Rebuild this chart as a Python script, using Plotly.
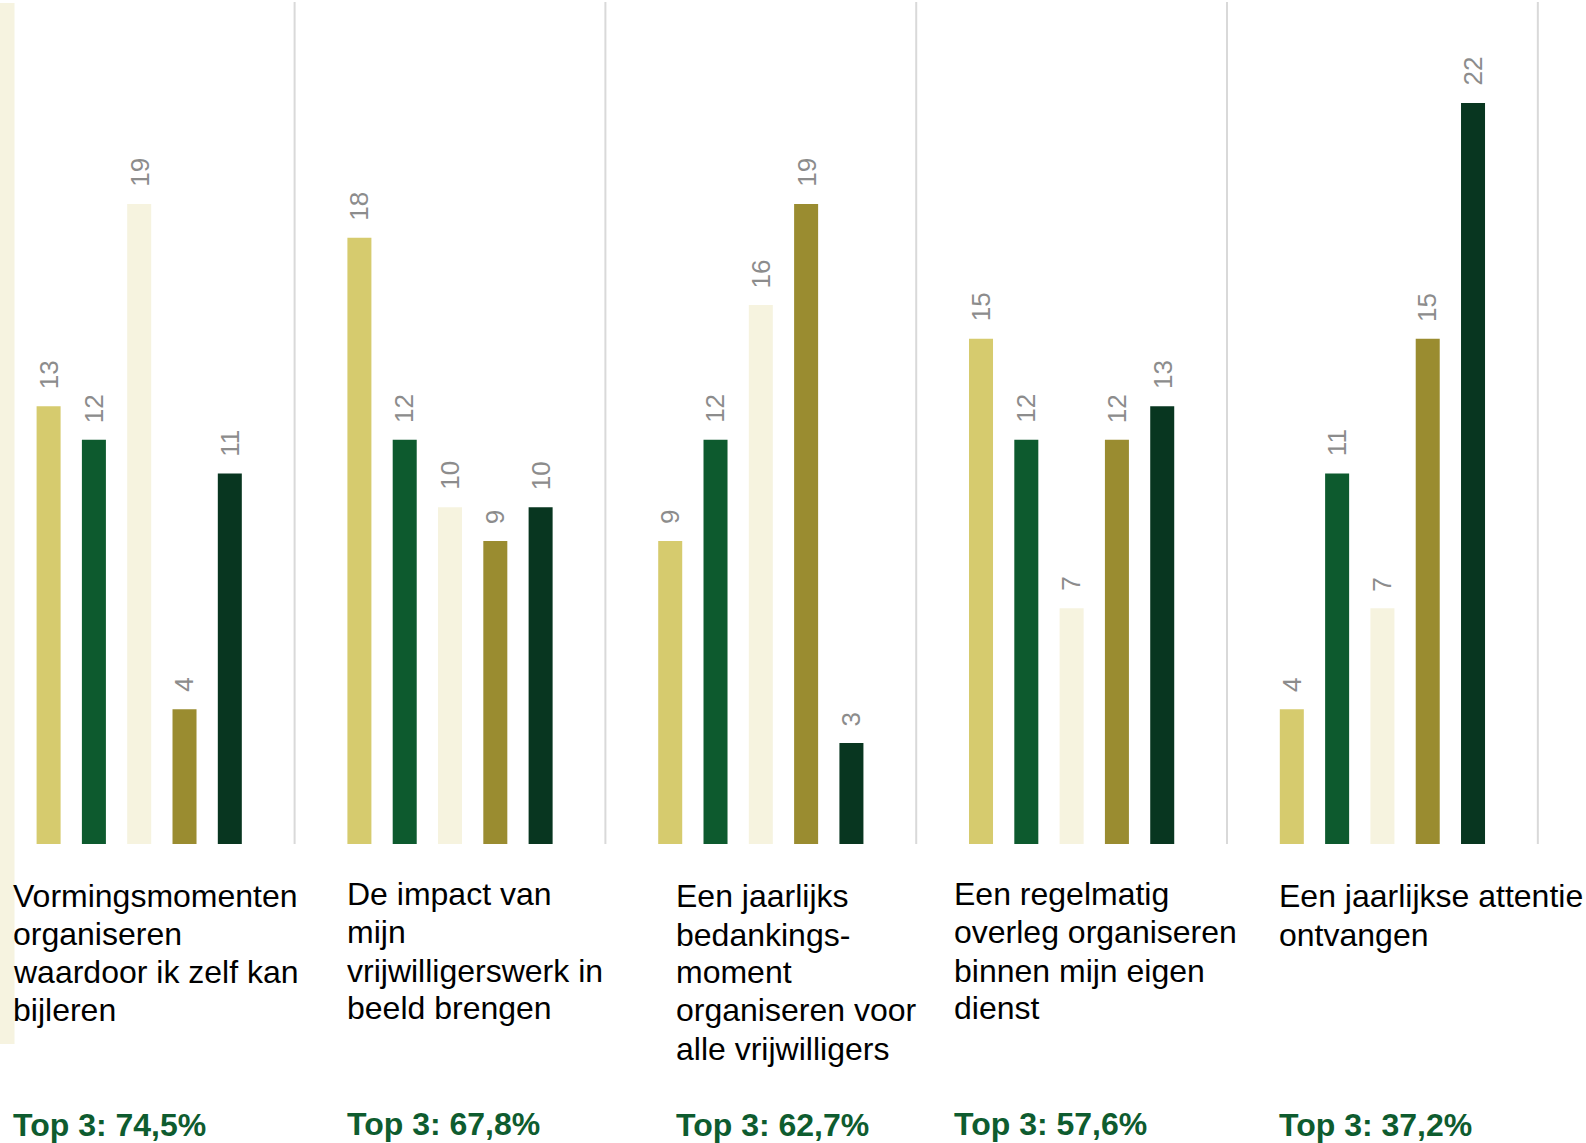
import plotly.graph_objects as go

# ---------------- data ----------------
categories = [
    "Vormingsmomenten organiseren waardoor ik zelf kan bijleren",
    "De impact van mijn vrijwilligerswerk in beeld brengen",
    "Een jaarlijks bedankings-moment organiseren voor alle vrijwilligers",
    "Een regelmatig overleg organiseren binnen mijn eigen dienst",
    "Een jaarlijkse attentie ontvangen",
]
category_lines = [
    ["Vormingsmomenten", "organiseren", "waardoor ik zelf kan", "bijleren"],
    ["De impact van", "mijn", "vrijwilligerswerk in", "beeld brengen"],
    ["Een jaarlijks", "bedankings-", "moment", "organiseren voor", "alle vrijwilligers"],
    ["Een regelmatig", "overleg organiseren", "binnen mijn eigen", "dienst"],
    ["Een jaarlijkse attentie", "ontvangen"],
]
series_names = ["1", "2", "3", "4", "5"]
values_1 = [13, 18, 9, 15, 4]
values_2 = [12, 12, 12, 12, 11]
values_3 = [19, 10, 16, 7, 7]
values_4 = [4, 9, 19, 12, 15]
values_5 = [11, 10, 3, 13, 22]
top3 = ["74,5%", "67,8%", "62,7%", "57,6%", "37,2%"]

series_values = [values_1, values_2, values_3, values_4, values_5]
colors = ["#D6CB6E", "#0D5A2E", "#F6F3DF", "#9A8C30", "#083620"]

W, H = 1586, 1143
BASE = 844  # pixel row of the bar baseline
FONT = "Liberation Sans, Arial, sans-serif"

fig = go.Figure()
for name, vals, col in zip(series_names, series_values, colors):
    fig.add_trace(go.Bar(x=categories, y=vals, name=name, marker_color=col,
                         marker_line_width=0, showlegend=False, hoverinfo="x+y"))

ann = []
slot = 45.3 / 310.8
for s, vals in enumerate(series_values):
    for i, v in enumerate(vals):
        ann.append(dict(x=i + (s - 2) * slot, y=v, xref="x", yref="y", text=str(v),
                        showarrow=False, textangle=-90, xanchor="center", yanchor="bottom",
                        yshift=15, font=dict(family=FONT, size=26, color="#8C8C8C")))

def px(xp):
    return xp / W

def py(yp):
    return (BASE - yp) / BASE

lefts = [11, 345, 674, 952, 1277]
line_y = [
    [896, 934, 972, 1010],
    [894, 932, 971, 1008],
    [896, 935, 972, 1010, 1049],
    [894, 932, 971, 1008],
    [896, 935],
]
top_y = [1125, 1124, 1125, 1124, 1125]
for i, lines in enumerate(category_lines):
    for j, line in enumerate(lines):
        ann.append(dict(x=px(lefts[i]), y=py(line_y[i][j]), xref="paper", yref="paper",
                        text=line, showarrow=False, xanchor="left", yanchor="middle",
                        font=dict(family=FONT, size=32, color="#000000")))
    ann.append(dict(x=px(lefts[i]), y=py(top_y[i]), xref="paper", yref="paper",
                    text="<b>Top 3: " + top3[i] + "</b>", showarrow=False,
                    xanchor="left", yanchor="middle",
                    font=dict(family=FONT, size=32, color="#0E5C2F")))

shapes = []
for i in range(len(categories)):
    shapes.append(dict(type="line", xref="x", yref="paper", x0=i + 0.5, x1=i + 0.5,
                       y0=0, y1=py(2), line=dict(color="#D9D9D9", width=2), layer="below"))
shapes.append(dict(type="rect", xref="paper", yref="paper", x0=0, x1=px(14.5),
                   y0=py(1044), y1=py(3), fillcolor="#F6F3E0", line=dict(width=0), layer="below"))

fig.update_layout(
    width=W, height=H,
    margin=dict(l=0, r=0, t=0, b=H - BASE, pad=0),
    paper_bgcolor="white", plot_bgcolor="white",
    barmode="group", bargap=0.2712, bargroupgap=0.47,
    xaxis=dict(range=[-0.4479, 4.655], visible=False, showgrid=False),
    yaxis=dict(range=[0, BASE / 33.68], visible=False, showgrid=False),
    annotations=ann, shapes=shapes, showlegend=False,
)

fig.write_html("out.html", config={"displayModeBar": False},
               post_script="document.body.style.margin='0';document.body.style.overflow='hidden';")
